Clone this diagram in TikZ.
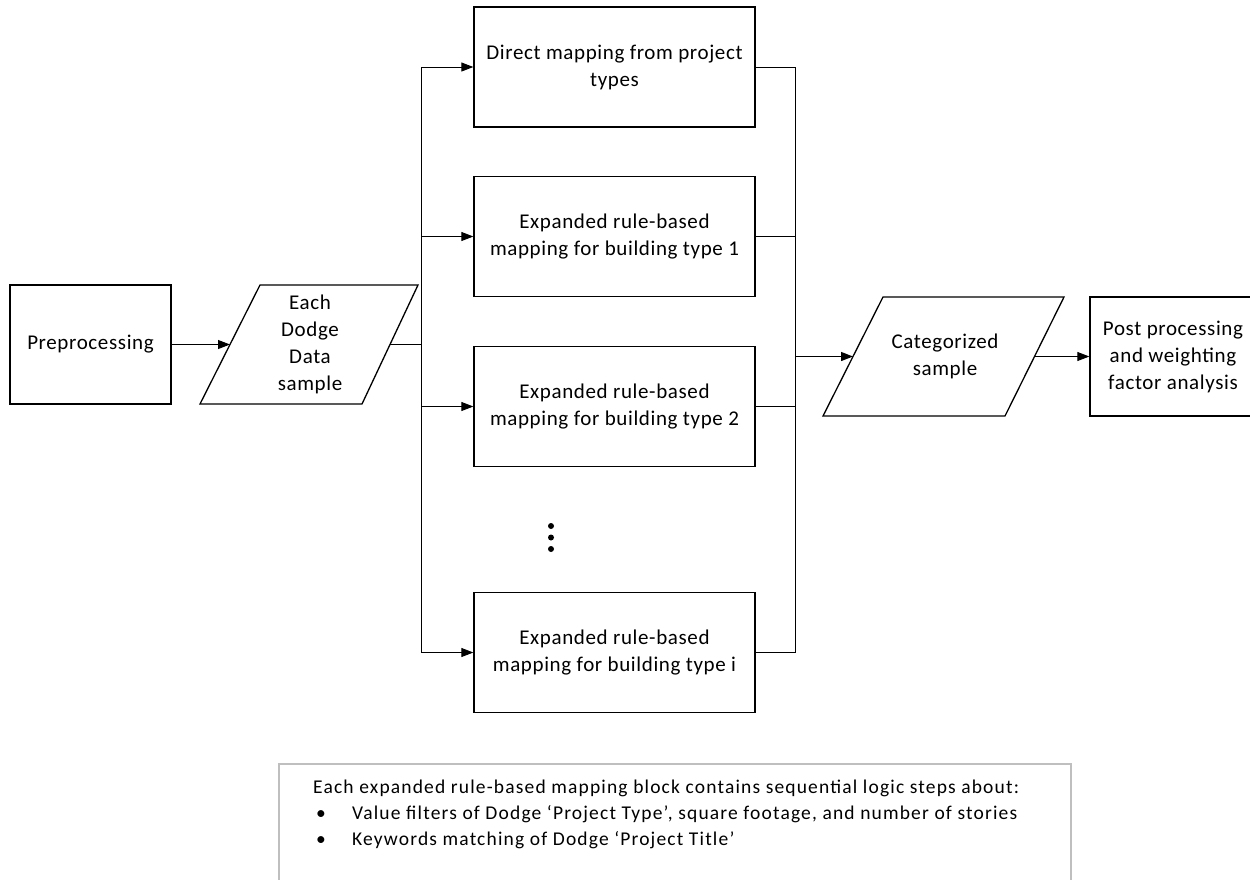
\documentclass[tikz,border=0pt]{standalone}
\usepackage{fontspec}
\setmainfont{Carlito}
\newfontfamily\boxfam[LetterSpace=3]{Carlito}
\newfontfamily\notefam[LetterSpace=6]{Carlito}
\usetikzlibrary{arrows.meta}
\definecolor{notegray}{HTML}{BFBFBF}
\begin{document}
\begin{tikzpicture}[x=1pt,y=-1pt,
  boxfont/.style={font=\boxfam\fontsize{21}{27}\selectfont},
  box/.style={draw, line width=1.3pt, minimum width=281pt, minimum height=120pt, inner sep=0pt, align=center, boxfont},
  conn/.style={line width=0.9pt},
  arr/.style={conn, -{Triangle[length=12pt,width=9pt]}},
  shapeline/.style={line width=1.3pt, line join=miter},
  notefont/.style={font=\notefam\fontsize{19.5}{26}\selectfont, inner sep=0pt}
]
\useasboundingbox (0,0) rectangle (1250,879);

% left
\node[draw, line width=1.3pt, minimum width=161pt, minimum height=119pt, inner sep=0pt, boxfont] (pre) at (90.5,344.5) {Preprocessing};

\draw[shapeline] (260,285) -- (418,285) -- (362,404) -- (200,404) -- cycle;
\node[align=center, boxfont, inner sep=0pt] (ed) at (310,344.5) {Each\\Dodge\\Data\\sample};
\coordinate (edin) at (230,344.5);
\coordinate (edout) at (390,344.5);

% center boxes
\node[box] (b1) at (614.5,67) {Direct mapping from project\\types};
\node[box] (b2) at (614.5,236.5) {Expanded rule-based\\mapping for building type 1};
\node[box] (b3) at (614.5,406.5) {Expanded rule-based\\mapping for building type 2};
\node[box] (b4) at (614.5,652.5) {Expanded rule-based\\mapping for building type i};

\fill (551,526) circle (3pt);
\fill (551,537.5) circle (3pt);
\fill (551,549) circle (3pt);

% right
\draw[shapeline] (883,297) -- (1064,297) -- (1005,416) -- (823,416) -- cycle;
\node[align=center, boxfont, inner sep=0pt] (cat) at (945,356.5) {Categorized\\sample};
\coordinate (cin) at (853,356.5);
\coordinate (cout) at (1034.5,356.5);

\node[draw, line width=1.3pt, minimum width=166pt, minimum height=119pt, inner sep=0pt, align=center, boxfont] (post) at (1173,356.5) {Post processing\\and weighting\\factor analysis};

% connectors
\coordinate (busL) at (421,344.5);
\coordinate (busR) at (795,356.5);
\draw[arr] (pre.east) -- (edin);
\draw[conn] (edout) -- (busL);
\draw[arr] (busL) |- (b1.west);
\draw[arr] (busL) |- (b2.west);
\draw[arr] (busL) |- (b3.west);
\draw[arr] (busL) |- (b4.west);
\draw[conn] (b1.east) -| (busR);
\draw[conn] (b2.east) -| (busR);
\draw[conn] (b3.east) -| (busR);
\draw[conn] (b4.east) -| (busR);
\draw[arr, line width=1.3pt] (busR) -- (cin);
\draw[arr] (cout) -- (post.west);

% note
\draw[notegray, line width=1.5pt] (279,764) rectangle (1071,900);
\node[notefont, anchor=base west] (n1) at (313,793) {Each expanded rule-based mapping block contains sequential logic steps about:};
\node[notefont, anchor=base west] (bu1) at (316,819) {•};
\node[notefont, anchor=base west] (n2) at (352,819) {Value filters of Dodge ‘Project Type’, square footage, and number of stories};
\node[notefont, anchor=base west] (bu2) at (316,845) {•};
\node[notefont, anchor=base west] (n3) at (352,845) {Keywords matching of Dodge ‘Project Title’};
\end{tikzpicture}
\end{document}
